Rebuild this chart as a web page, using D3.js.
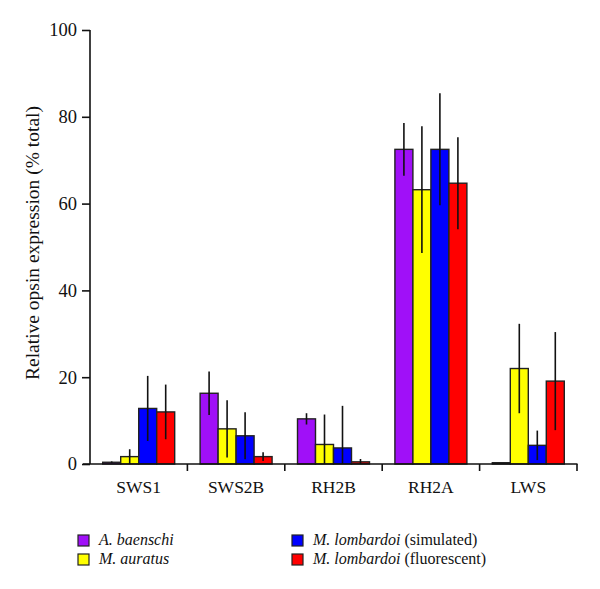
<!DOCTYPE html>
<html><head><meta charset="utf-8">
<script src="https://cdn.jsdelivr.net/npm/d3@7"></script>
<style>body{margin:0;background:#fff}svg{display:block}text{font-family:"Liberation Serif","Times New Roman",serif;fill:#111}</style>
</head><body><svg id="c" width="600" height="589"></svg>
<script>
const categories = ["SWS1","SWS2B","RH2B","RH2A","LWS"];
const seriesNames = ["A. baenschi","M. auratus","M. lombardoi (simulated)","M. lombardoi (fluorescent)"];
const seriesColors = ["#a010f8","#ffff00","#0000ff","#ff0000"];
const baenschi  = [0.4, 16.3, 10.4, 72.5, 0.3];
const auratus   = [1.7, 8.1, 4.5, 63.2, 22.0];
const lombSim   = [12.8, 6.5, 3.7, 72.5, 4.3];
const lombFluor = [12.0, 1.7, 0.5, 64.7, 19.1];
const baenschiErr  = [0.2, 5.0, 1.3, 6.1, 0];
const auratusErr   = [1.7, 6.6, 6.9, 14.6, 10.3];
const lombSimErr   = [7.5, 5.4, 9.7, 12.9, 3.4];
const lombFluorErr = [6.3, 1.0, 0.65, 10.6, 11.3];
const yTicks = [0,20,40,60,80,100];

const values = [baenschi, auratus, lombSim, lombFluor];
const errs = [baenschiErr, auratusErr, lombSimErr, lombFluorErr];

const svg = d3.select("#c");
const x0 = d3.scaleBand().domain(categories).range([90,577]).paddingInner(0).paddingOuter(0);
const x1 = d3.scaleBand().domain(d3.range(4)).range([0, x0.bandwidth()]).paddingInner(0).paddingOuter(0.706);
const y = d3.scaleLinear().domain([0,100]).range([464,30]);

// bars
categories.forEach((c, ci) => {
  const g = svg.append("g").attr("transform", `translate(${x0(c)},0)`);
  values.forEach((vals, si) => {
    const v = vals[ci];
    g.append("rect").attr("x", x1(si)).attr("width", x1.bandwidth())
      .attr("y", y(v)).attr("height", y(0)-y(v))
      .attr("fill", seriesColors[si]).attr("stroke", "#222").attr("stroke-width", 1.4);
  });
  values.forEach((vals, si) => {
    const v = vals[ci], e = errs[si][ci];
    if (e <= 0) return;
    const cx = x1(si) + x1.bandwidth()/2;
    g.append("line").attr("x1", cx).attr("x2", cx)
      .attr("y1", y(v+e)).attr("y2", y(Math.max(0, v-e)))
      .attr("stroke", "#111").attr("stroke-width", 1.6);
  });
});

// y axis
const yAxis = d3.axisLeft(y).tickValues(yTicks).tickSize(8).tickPadding(5);
const ya = svg.append("g").attr("transform","translate(90,0)").call(yAxis);
ya.select(".domain").attr("stroke","#111").attr("stroke-width",1.6).attr("d","M0,464V30");
ya.selectAll(".tick line").attr("stroke","#111").attr("stroke-width",1.6);
ya.selectAll(".tick text").style("font-size","18.5px").attr("fill","#111");

// x axis
svg.append("line").attr("x1",83).attr("x2",577.5).attr("y1",y(0)).attr("y2",y(0))
  .attr("stroke","#111").attr("stroke-width",1.6);
categories.forEach(c => {
  const xe = x0(c) + x0.bandwidth();
  svg.append("line").attr("x1",xe).attr("x2",xe).attr("y1",y(0)).attr("y2",y(0)+7)
    .attr("stroke","#111").attr("stroke-width",1.6);
  svg.append("text").attr("x", x0(c)+x0.bandwidth()/2).attr("y", 493)
    .attr("text-anchor","middle").style("font-size","17.5px").text(c);
});

// y title
svg.append("text").attr("transform","translate(39,243) rotate(-90)")
  .attr("text-anchor","middle").style("font-size","19.5px")
  .text("Relative opsin expression (% total)");

// legend
const legPos = [[78,535],[78,554],[292,535],[292,554]];
seriesNames.forEach((name, i) => {
  const [lx, ly] = legPos[i];
  svg.append("rect").attr("x",lx).attr("y",ly).attr("width",11).attr("height",11)
    .attr("fill",seriesColors[i]).attr("stroke","#222").attr("stroke-width",1.2);
  const t = svg.append("text").attr("x", lx+21).attr("y", ly+10).style("font-size","16px");
  const m = name.match(/^(\S+ \S+)( .*)?$/);
  t.append("tspan").style("font-style","italic").text(m[1]);
  if (m[2]) t.append("tspan").text(m[2]);
});
</script></body></html>
